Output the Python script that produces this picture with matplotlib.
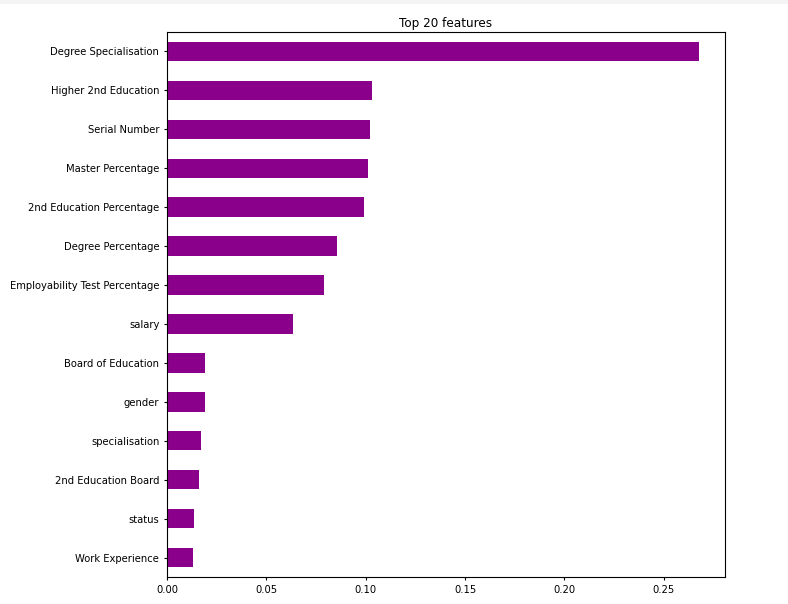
import matplotlib
matplotlib.use("Agg")
import matplotlib.pyplot as plt
from matplotlib.patches import Rectangle

features = ["Degree Specialisation", "Higher 2nd Education", "Serial Number",
            "Master Percentage", "2nd Education Percentage", "Degree Percentage",
            "Employability Test Percentage", "salary", "Board of Education",
            "gender", "specialisation", "2nd Education Board", "status",
            "Work Experience"]
importances = [0.2675, 0.1033, 0.1023, 0.1012, 0.0992, 0.0856, 0.0790, 0.0634,
               0.0191, 0.0191, 0.0171, 0.0161, 0.0136, 0.0131]
title = "Top 20 features"

W, H = 788, 604
fig = plt.figure(figsize=(W / 100, H / 100), dpi=100)
fig.patches.append(Rectangle((0, 1 - 4 / H), 1, 4 / H, transform=fig.transFigure,
                             facecolor="#f4f4f4", edgecolor="none", zorder=-1))
ax = fig.add_axes([167 / W, 1 - 577 / H, (725 - 167) / W, (577 - 32) / H])

labels = features[::-1]
vals = importances[::-1]
ypos = list(range(len(labels)))
ax.barh(ypos, vals, height=0.5, color="#8B008B")
ax.set_yticks(ypos)
ax.set_yticklabels(labels, fontsize=7.2)
ax.set_ylim(-0.5, len(labels) - 0.5)
ax.set_xlim(0, 0.2808)
ax.set_xticks([0.0, 0.05, 0.10, 0.15, 0.20, 0.25])
ax.set_xticklabels(["0.00", "0.05", "0.10", "0.15", "0.20", "0.25"], fontsize=7.2)
ax.tick_params(length=2.5, width=0.8)
ax.tick_params(axis="y", pad=3)
ax.set_title(title, fontsize=8.64, pad=3.5)

fig.savefig("out.png", dpi=100)
